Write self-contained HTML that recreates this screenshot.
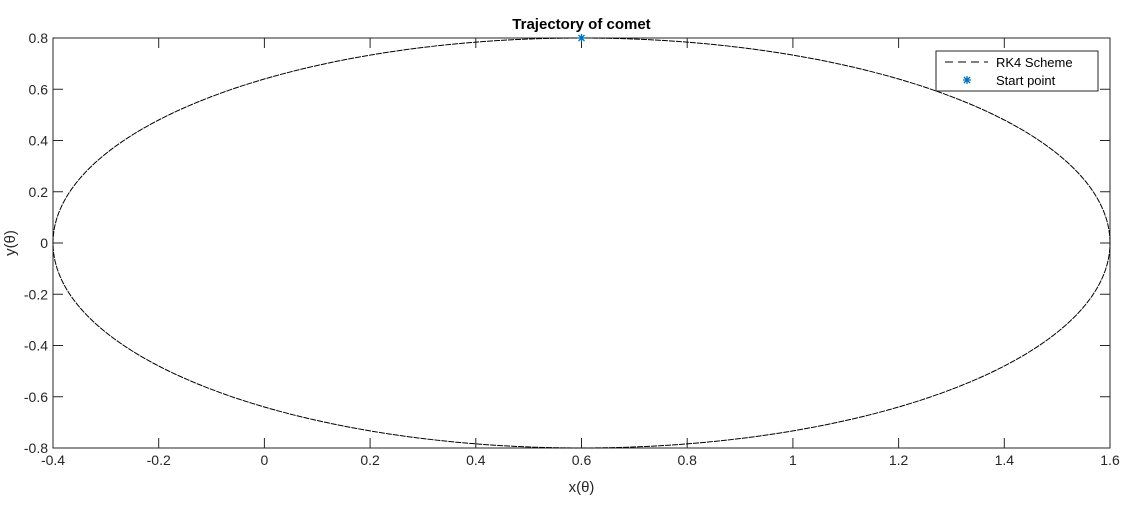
<!DOCTYPE html>
<html><head><meta charset="utf-8"><style>
body{margin:0;background:#fff;}
svg{display:block;font-family:"Liberation Sans",sans-serif;}
</style></head><body>
<svg id="c" width="1127" height="505"></svg>
<script>
const xTicks=[-0.4,-0.2,0,0.2,0.4,0.6,0.8,1,1.2,1.4,1.6];
const xTickLabels=["-0.4","-0.2","0","0.2","0.4","0.6","0.8","1","1.2","1.4","1.6"];
const yTicks=[-0.8,-0.6,-0.4,-0.2,0,0.2,0.4,0.6,0.8];
const yTickLabels=["-0.8","-0.6","-0.4","-0.2","0","0.2","0.4","0.6","0.8"];
const orbitCenter=[0.6,0];
const orbitAxes=[1.0,0.8];
const startPoint=[0.6,0.8];
const L=53,R=1110,T=38,B=448;
const sx=v=>L+(v+0.4)/2*(R-L);
const sy=v=>B-(v+0.8)/1.6*(B-T);
const NS="http://www.w3.org/2000/svg";
const svg=document.getElementById('c');
function mk(t,a,p){const e=document.createElementNS(NS,t);for(const k in a)e.setAttribute(k,a[k]);(p||svg).appendChild(e);return e;}
const box=mk('rect',{x:L,y:T,width:R-L,height:B-T,fill:'#fff',stroke:'#262626','stroke-width':1});


xTicks.forEach((v,i)=>{const x=sx(v);
mk('line',{x1:x,x2:x,y1:B,y2:B-10,stroke:'#262626'});mk('line',{x1:x,x2:x,y1:T,y2:T+10,stroke:'#262626'});
const t=mk('text',{x:x,y:B+17,'font-size':14,'text-anchor':'middle',fill:'#262626'});t.textContent=xTickLabels[i];

});
yTicks.forEach((v,i)=>{const y=sy(v);
mk('line',{x1:L,x2:L+10,y1:y,y2:y,stroke:'#262626'});mk('line',{x1:R,x2:R-10,y1:y,y2:y,stroke:'#262626'});
const t=mk('text',{x:L-5,y:y+5,'font-size':14,'text-anchor':'end',fill:'#262626'});t.textContent=yTickLabels[i];

});
let d='';for(let k=0;k<=720;k++){const a=k/720*2*Math.PI;const x=orbitCenter[0]+orbitAxes[0]*Math.cos(a),y=orbitCenter[1]+orbitAxes[1]*Math.sin(a);d+=(k?'L':'M')+sx(x).toFixed(2)+','+sy(y).toFixed(2);}
const orbit=mk('path',{d:d,fill:'none',stroke:'#000','stroke-width':1,'stroke-dasharray':'6 1'});


function star(x,y,g){mk('path',{d:`M${x-4},${y}L${x+4},${y}M${x},${y-4}L${x},${y+4}M${x-3},${y-3}L${x+3},${y+3}M${x-3},${y+3}L${x+3},${y-3}`,stroke:'#0072BD','stroke-width':1.3},g);}
const sp=mk('g',{});
star(sx(startPoint[0]),sy(startPoint[1]),sp);
const title=mk('text',{x:(L+R)/2,y:29,'font-size':15,'font-weight':'bold','text-anchor':'middle',fill:'#000'});title.textContent='Trajectory of comet';

const xl=mk('text',{x:(L+R)/2,y:492,'font-size':15,'text-anchor':'middle',fill:'#262626'});xl.textContent='x(θ)';

const yl=mk('text',{x:0,y:0,'font-size':15,'text-anchor':'middle',fill:'#262626',transform:`translate(15,${(T+B)/2}) rotate(-90)`});yl.textContent='y(θ)';

const lg=mk('g',{});
mk('rect',{x:936,y:51,width:162,height:40,fill:'#fff',stroke:'#262626'},lg);
mk('line',{x1:945,x2:988,y1:62,y2:62,stroke:'#000','stroke-dasharray':'8 5'},lg);
const l1=mk('text',{x:996,y:67,'font-size':13,fill:'#000'},lg);l1.textContent='RK4 Scheme';

star(967,80,lg);
const l2=mk('text',{x:996,y:85,'font-size':13,fill:'#000'},lg);l2.textContent='Start point';

</script>
</body></html>
